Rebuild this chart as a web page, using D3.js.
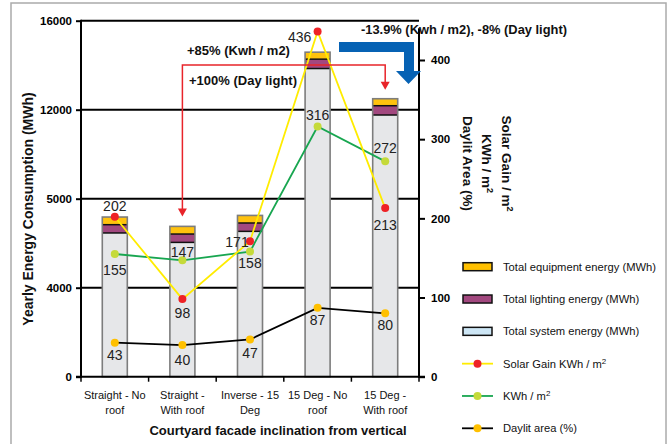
<!DOCTYPE html>
<html>
<head>
<meta charset="utf-8">
<script src="https://cdn.jsdelivr.net/npm/d3@7"></script>
<style>
  html, body { margin: 0; padding: 0; background: #fff; }
  svg { display: block; font-family: "Liberation Sans", Arial, sans-serif; }
</style>
</head>
<body>
<svg id="chart" width="671" height="444"></svg>
<script>
// Courtyard facade cases (two-line tick labels)
const categories = [
  ["Straight - No", "roof"],
  ["Straight -", "With roof"],
  ["Inverse - 15", "Deg"],
  ["15 Deg - No", "roof"],
  ["15 Deg -", "With roof"]
];

// Stacked yearly energy (MWh)
const systemEnergy    = [4615, 4509, 4633, 13850, 11583];
const lightingEnergy  = [93, 94, 94, 421, 596];
const equipmentEnergy = [86, 86, 85, 314, 314];

// Right-axis series
const solarGain = [202, 98, 171, 436, 213];   // Solar Gain KWh / m2
const kwhPerM2  = [155, 147, 158, 316, 272];  // KWh / m2
const daylit    = [43, 40, 47, 87, 80];       // Daylit area (%)

// Axis ticks
const leftTicks  = [0, 4000, 5000, 12000, 16000];
const rightTicks = [0, 100, 200, 300, 400];

const legendItems = [
  "Total equipment energy (MWh)",
  "Total lighting energy (MWh)",
  "Total system energy (MWh)",
  "Solar Gain KWh / m",
  "KWh / m",
  "Daylit area (%)"
];

const svg = d3.select("#chart");
const L = 81, R = 419, T = 20.7, B = 376.7;

const x = d3.scaleBand().domain(d3.range(categories.length))
  .range([L, R]).paddingInner(0.63).paddingOuter(0.315);
const xc = i => x(i) + x.bandwidth() / 2;

// left axis uses equally spaced tick positions
const step = (B - T) / (leftTicks.length - 1);
const yL = d3.scaleLinear().domain(leftTicks)
  .range(leftTicks.map((d, i) => B - i * step));
const yR = d3.scaleLinear().domain([0, 400]).range([B, 60]);

// frame
svg.append("rect").attr("x", 11).attr("y", 3).attr("width", 655).attr("height", 460)
  .attr("fill", "none").attr("stroke", "#ababab").attr("stroke-width", 1.5);

// gridlines
svg.append("g").selectAll("line").data(leftTicks.filter(d => d > 0)).join("line")
  .attr("x1", L).attr("x2", R).attr("y1", d => yL(d)).attr("y2", d => yL(d))
  .attr("stroke", "#000").attr("stroke-width", 2);

// bars
const colors = { sys: "#e6e7e9", light: "#a2487f", equip: "#ffc20e" };
const bars = svg.append("g");
categories.forEach((c, i) => {
  const s = systemEnergy[i], l = s + lightingEnergy[i], e = l + equipmentEnergy[i];
  const bx = x(i), bw = x.bandwidth();
  const g = bars.append("g");
  g.append("rect").attr("x", bx).attr("width", bw).attr("y", yL(s)).attr("height", yL(0) - yL(s)).attr("fill", colors.sys);
  g.append("rect").attr("x", bx).attr("width", bw).attr("y", yL(l)).attr("height", yL(s) - yL(l)).attr("fill", colors.light);
  g.append("rect").attr("x", bx).attr("width", bw).attr("y", yL(e)).attr("height", yL(l) - yL(e)).attr("fill", colors.equip);
  [s, l].forEach(v => g.append("line").attr("x1", bx).attr("x2", bx + bw)
    .attr("y1", yL(v)).attr("y2", yL(v)).attr("stroke", "#111").attr("stroke-width", 1.5));
  g.append("rect").attr("x", bx).attr("width", bw).attr("y", yL(e)).attr("height", yL(0) - yL(e))
    .attr("fill", "none").attr("stroke", "#7d7d7d").attr("stroke-width", 1.6);
});

// axes
const axisG = svg.append("g");
const leftAxis = axisG.append("g").attr("transform", `translate(${L},0)`)
  .call(d3.axisLeft(yL).tickValues(leftTicks).tickSize(5).tickPadding(4).tickFormat(d3.format("d")));
const rightAxis = axisG.append("g").attr("transform", `translate(${R},0)`)
  .call(d3.axisRight(yR).tickValues(rightTicks).tickSize(6).tickPadding(6).tickFormat(d3.format("d")));
[leftAxis, rightAxis].forEach(a => {
  a.selectAll("path.domain").remove();
  a.selectAll(".tick line").attr("stroke", "#000").attr("stroke-width", 2);
  a.selectAll(".tick text").attr("font-size", 11.5).attr("font-weight", "bold")
    .attr("fill", "#000").attr("font-family", "Liberation Sans, Arial, sans-serif");
});
axisG.append("line").attr("x1", L).attr("x2", L).attr("y1", T - 1).attr("y2", B + 1)
  .attr("stroke", "#000").attr("stroke-width", 2);
axisG.append("line").attr("x1", R).attr("x2", R).attr("y1", yR(440)).attr("y2", B + 1)
  .attr("stroke", "#000").attr("stroke-width", 2);
axisG.append("line").attr("x1", L - 5).attr("x2", R + 6).attr("y1", B).attr("y2", B)
  .attr("stroke", "#000").attr("stroke-width", 2);
// category separators on x axis
axisG.append("g").selectAll("line").data(d3.range(categories.length + 1)).join("line")
  .attr("x1", i => L + i * x.step()).attr("x2", i => L + i * x.step())
  .attr("y1", B).attr("y2", B + 5).attr("stroke", "#000").attr("stroke-width", 1.5);

// x tick labels
const xl = svg.append("g").attr("font-size", 11).attr("fill", "#111");
categories.forEach((c, i) => {
  const t = xl.append("text").attr("text-anchor", "middle").attr("x", xc(i)).attr("y", 399);
  c.forEach((line, k) => t.append("tspan").attr("x", xc(i)).attr("dy", k ? 14.5 : 0).text(line));
});

// lines and points
function series(vals, lineColor, dotColor) {
  const g = svg.append("g");
  g.append("path").datum(vals)
    .attr("d", d3.line().x((d, i) => xc(i)).y(d => yR(d)))
    .attr("fill", "none").attr("stroke", lineColor).attr("stroke-width", 1.8);
  g.selectAll("circle").data(vals).join("circle")
    .attr("cx", (d, i) => xc(i)).attr("cy", d => yR(d)).attr("r", 4).attr("fill", dotColor);
}
series(daylit, "#000", "#ffc000");
series(kwhPerM2, "#18a650", "#c5da3a");
series(solarGain, "#ffec00", "#ee2226");

// value labels: [dx, dy] placement per point
const labelOffsets = {
  solar: [[0, -11], [0, 14], [-13, 1], [-18, 5], [0, 17]],
  kwh:   [[0, 16], [0, -8], [0, 11], [0, -12], [0, -13]],
  day:   [[0, 12], [0, 15], [0, 13], [0, 12], [0, 12]]
};
const vl = svg.append("g").attr("font-size", 14).attr("fill", "#222").attr("text-anchor", "middle");
function labels(vals, offs) {
  vals.forEach((v, i) => vl.append("text")
    .attr("x", xc(i) + offs[i][0]).attr("y", yR(v) + offs[i][1]).attr("dy", "0.36em").text(v));
}
labels(solarGain, labelOffsets.solar);
labels(kwhPerM2, labelOffsets.kwh);
labels(daylit, labelOffsets.day);

// red comparison arrow
const red = "#e8242a";
const ax1 = xc(1), ax2 = xc(4), ay = 65;
const tip1 = yL(systemEnergy[1] + lightingEnergy[1] + equipmentEnergy[1]) - 10;
const tip2 = yL(systemEnergy[4] + lightingEnergy[4] + equipmentEnergy[4]) - 9;
svg.append("path")
  .attr("d", `M${ax1},${tip1 - 7}V${ay}H${ax2}V${tip2 - 7}`)
  .attr("fill", "none").attr("stroke", red).attr("stroke-width", 1.5);
[[ax1, tip1], [ax2, tip2]].forEach(([px, py]) => svg.append("path")
  .attr("d", `M${px - 4.5},${py - 8}L${px + 4.5},${py - 8}L${px},${py}Z`).attr("fill", red));

// blue arrow
svg.append("path")
  .attr("d", "M339,42H414V71H421L408.5,84L396,71H404V52H339Z")
  .attr("fill", "#0662b4");

// annotations
const ann = svg.append("g").attr("font-weight", "bold").attr("fill", "#111");
ann.append("text").attr("x", 187).attr("y", 55).attr("font-size", 13).text("+85% (Kwh / m2)");
ann.append("text").attr("x", 189).attr("y", 84.5).attr("font-size", 13).text("+100% (Day light)");
ann.append("text").attr("x", 361).attr("y", 33.5).attr("font-size", 13.7)
  .attr("textLength", 206).attr("lengthAdjust", "spacingAndGlyphs")
  .text("-13.9% (Kwh / m2), -8% (Day light)");

// axis titles
svg.append("text").attr("transform", "translate(28,209) rotate(-90)")
  .attr("text-anchor", "middle").attr("dy", "0.35em")
  .attr("font-size", 14).attr("font-weight", "bold").attr("fill", "#111")
  .text("Yearly Energy Consumption (MWh)");

svg.append("text").attr("x", 278).attr("y", 434.5).attr("text-anchor", "middle")
  .attr("font-size", 13).attr("font-weight", "bold").attr("fill", "#111")
  .text("Courtyard facade inclination from vertical");

const rTitles = [
  { x: 507, t: "Solar Gain / m", sup: true },
  { x: 487, t: "KWh / m", sup: true },
  { x: 468, t: "Daylit Area (%)", sup: false }
];
rTitles.forEach(d => {
  const t = svg.append("text").attr("transform", `translate(${d.x},163.5) rotate(90)`)
    .attr("text-anchor", "middle").attr("dy", "0.35em")
    .attr("font-size", 13.5).attr("font-weight", "bold").attr("fill", "#111");
  t.append("tspan").text(d.t);
  if (d.sup) t.append("tspan").attr("font-size", 9).attr("baseline-shift", "super").text("2");
});

// legend
const lg = svg.append("g");
const legendY = d3.scalePoint().domain(d3.range(legendItems.length)).range([266.7, 428.3]);
const swatchFill = ["#ffc000", "#a2487f", "#cde6f5"];
const lineStyles = [["#ffec00", "#ee2226"], ["#18a650", "#c5da3a"], ["#000", "#ffc000"]];
legendItems.forEach((name, i) => {
  const y = legendY(i);
  if (i < 3) {
    lg.append("rect").attr("x", 463).attr("y", y - 4).attr("width", 29).attr("height", 8)
      .attr("fill", swatchFill[i]).attr("stroke", "#111").attr("stroke-width", 1.5);
  } else {
    const [lc, dc] = lineStyles[i - 3];
    lg.append("line").attr("x1", 462).attr("x2", 493).attr("y1", y).attr("y2", y)
      .attr("stroke", lc).attr("stroke-width", 1.8);
    lg.append("circle").attr("cx", 477.5).attr("cy", y).attr("r", 4).attr("fill", dc);
  }
  const t = lg.append("text").attr("x", 503).attr("y", y).attr("dy", "0.35em")
    .attr("font-size", 11.2).attr("fill", "#111");
  t.append("tspan").text(name);
  if (i === 3 || i === 4) t.append("tspan").attr("font-size", 8).attr("baseline-shift", "super").text("2");
});
</script>
</body>
</html>
